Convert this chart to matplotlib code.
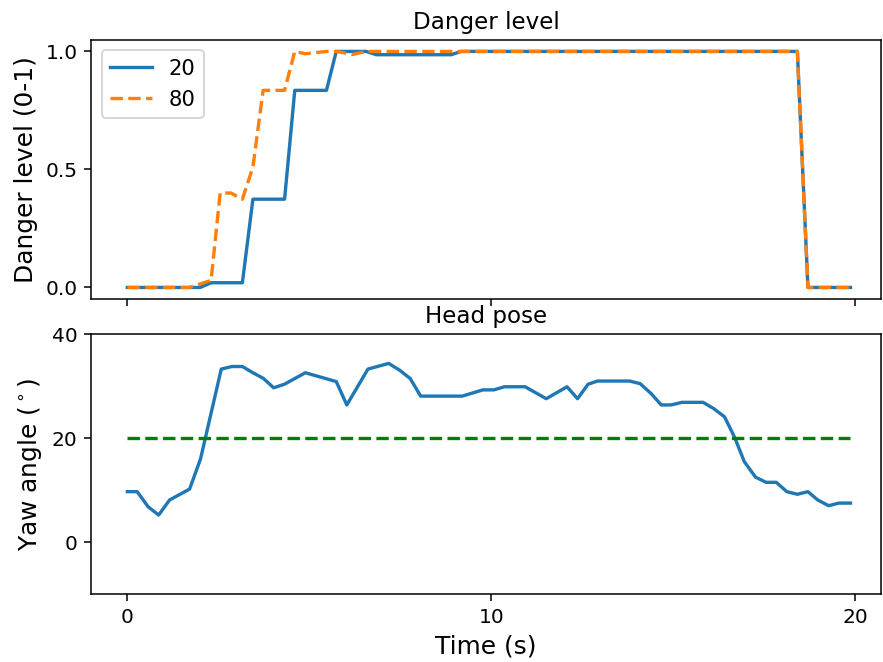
import numpy as np
import matplotlib
matplotlib.use("Agg")
import matplotlib.pyplot as plt

# Danger level estimates for two threshold settings (time in s, level 0-1)
t_danger_20 = [0.0, 2.0, 2.3, 3.16, 3.45, 4.32, 4.6, 5.47, 5.74, 6.56, 6.84, 8.9, 9.17, 18.41, 18.70, 19.87]
danger_20 = [0.0, 0.0, 0.02, 0.02, 0.374, 0.374, 0.835, 0.835, 1.0, 1.0, 0.986, 0.986, 1.0, 1.0, 0.0, 0.0]

t_danger_80 = [0.0, 1.71, 2.30, 2.55, 2.85, 3.16, 3.45, 3.73, 4.32, 4.60, 4.89, 5.47, 5.74, 6.19, 6.56, 18.41, 18.70, 19.87]
danger_80 = [0.0, 0.0, 0.03, 0.40, 0.40, 0.374, 0.51, 0.835, 0.835, 1.0, 0.99, 1.0, 1.0, 0.987, 1.0, 1.0, 0.0, 0.0]

# Head yaw angle over time (degrees)
t_yaw = [0.0, 0.27, 0.57, 0.86, 1.16, 1.71, 2.01, 2.58, 2.87, 3.16, 3.45, 3.74, 4.02, 4.32,
         4.89, 5.74, 6.03, 6.61, 7.18, 7.48, 7.77, 8.06, 9.20, 9.77, 10.07, 10.36, 10.93,
         11.51, 12.08, 12.37, 12.66, 12.92, 13.80, 14.09, 14.39, 14.67, 14.94, 15.24, 15.82,
         16.11, 16.41, 16.69, 16.95, 17.26, 17.55, 17.83, 18.12, 18.41, 18.70, 18.97, 19.27,
         19.55, 19.87]
yaw = [9.7, 9.7, 6.8, 5.2, 8.1, 10.2, 16.0, 33.3, 33.8, 33.8, 32.6, 31.5, 29.7, 30.4,
       32.6, 30.9, 26.4, 33.3, 34.4, 33.1, 31.5, 28.1, 28.1, 29.3, 29.3, 29.9, 29.9,
       27.6, 29.9, 27.6, 30.4, 31.0, 31.0, 30.5, 28.6, 26.4, 26.4, 26.9, 26.9,
       25.7, 24.1, 20.1, 15.5, 12.5, 11.5, 11.5, 9.7, 9.2, 9.7, 8.1, 7.0,
       7.5, 7.5]
yaw_threshold = 20

lw = 1.75

fig, (ax1, ax2) = plt.subplots(2, 1, sharex=True, figsize=(6.4, 4.8), dpi=138)
fig.subplots_adjust(left=0.103, right=0.998, top=0.9396, bottom=0.1027, hspace=0.135)

# top: danger level
ax1.plot(t_danger_20, danger_20, "-", lw=lw, label="20")
ax1.plot(t_danger_80, danger_80, "--", lw=lw, label="80")
ax1.set_title("Danger level", fontsize=12)
ax1.set_ylabel("Danger level (0-1)", fontsize=13)
ax1.set_yticks([0.0, 0.5, 1.0])
ax1.tick_params(labelsize=10.5)
ax1.legend(loc="upper left", fontsize=11)

# bottom: head pose
ax2.plot(t_yaw, yaw, "-", lw=lw)
ax2.plot([t_yaw[0], t_yaw[-1]], [yaw_threshold, yaw_threshold], "g--", lw=lw)
ax2.set_title("Head pose", fontsize=12)
ax2.set_ylabel("Yaw angle ($^\\circ$)", fontsize=13)
ax2.set_xlabel("Time (s)", fontsize=13)
ax2.set_ylim(-10, 40)
ax2.set_yticks([0, 20, 40])
ax2.set_xticks([0, 10, 20])
ax2.set_xlim(-1.0, 20.72)
ax2.tick_params(labelsize=10.5)

fig.savefig("out.png", dpi=138)
